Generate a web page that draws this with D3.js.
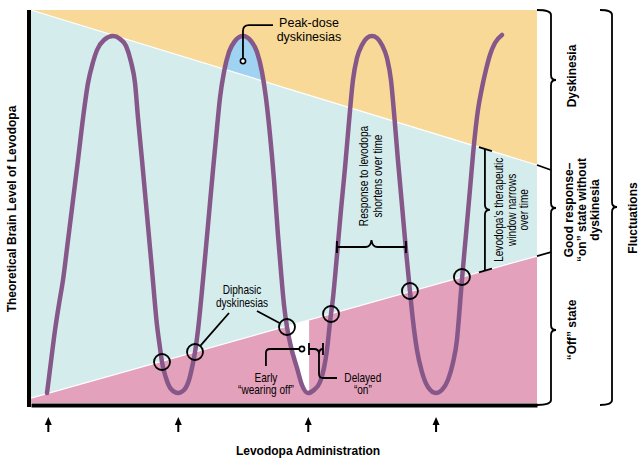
<!DOCTYPE html>
<html><head><meta charset="utf-8">
<script src="https://cdn.jsdelivr.net/npm/d3@7"></script>
<style>
html,body{margin:0;padding:0;background:#fff;}
svg{display:block;font-family:"Liberation Sans",Arial,Helvetica,sans-serif;}
</style></head><body>
<svg id="c" width="640" height="465"></svg>
<script>
// ---------- data (time in hours, level in % of scale) ----------
const doseTimes = [0, 3, 6, 8.95];
const levelCurve = [
[-0.03,2.54],[0.06,10.43],[0.155,18.58],[0.247,25.19],[0.339,31.30],[0.455,41.48],[0.570,51.65],[0.685,61.83],[0.801,72.52],[0.916,81.42],[1.032,86.77],[1.124,89.82],[1.285,92.37],[1.493,93.38],
[1.655,92.62],[1.794,90.84],[1.909,86.77],[2.001,81.42],[2.070,72.52],[2.162,61.83],[2.278,47.84],[2.393,33.84],[2.508,19.85],[2.578,13.99],[2.624,10.43],[2.716,6.36],[2.832,3.56],[2.993,2.54],
[3.132,3.31],[3.247,5.85],[3.339,10.18],[3.386,12.98],[3.455,18.58],[3.570,31.30],[3.686,45.29],[3.801,59.29],[3.893,69.97],[3.962,77.61],[4.055,84.22],[4.170,89.31],[4.308,92.11],[4.493,93.38],
[4.678,92.11],[4.817,89.31],[4.932,84.22],[5.024,77.61],[5.117,68.19],[5.209,56.74],[5.301,42.75],[5.371,33.33],[5.440,24.94],[5.509,19.34],[5.602,14.25],[5.740,8.91],[5.855,4.58],[5.994,2.54],
[6.132,3.31],[6.271,5.34],[6.363,8.91],[6.432,13.49],[6.502,20.61],[6.571,26.72],[6.663,37.66],[6.755,49.11],[6.848,59.80],[6.940,71.50],[7.032,82.19],[7.124,87.79],[7.240,91.09],[7.355,92.88],[7.470,93.38],
[7.586,92.88],[7.701,91.09],[7.817,87.79],[7.909,82.19],[7.978,74.05],[8.070,61.83],[8.163,50.38],[8.255,38.93],[8.347,28.50],[8.416,21.12],[8.509,13.49],[8.624,7.89],[8.763,4.07],[8.947,2.54],
[9.085,3.31],[9.224,5.85],[9.339,10.18],[9.432,16.03],[9.501,24.94],[9.547,31.30],[9.640,42.75],[9.732,54.20],[9.824,65.65],[9.917,74.55],[10.009,80.15],[10.101,84.73],[10.194,88.55],[10.309,91.60],[10.471,93.64]
];
const dyskThreshold = [[-0.4,100],[11.28,60.56]];
const offThreshold  = [[-0.4,1.27],[11.28,37.4]];
const crossings = [[2.624,10.43],[3.386,12.98],[5.509,19.34],[6.525,22.65],[8.347,28.5],[9.547,32.06]];
const peakDosePoint = [4.493, 87.0];
const earlyWearingOff = [5.854, 13.74];
const earlyWearingOffEnd = 6.02;
const delayedOnSpan = [6.017, 6.34, 13.74];
const responseSpan = [6.663, 8.255, 39.69];
const windowTime = 10.078;
const xLabel = "Levodopa Administration";
const yLabel = "Theoretical Brain Level of Levodopa";

// ---------- scales ----------
const svg = d3.select('#c');
const x = d3.scaleLinear().domain([-0.4, 11.28]).range([31, 537]);
const y = d3.scaleLinear().domain([0, 100]).range([403, 10]);
const lerp = (ln, t) => ln[0][1] + (ln[1][1]-ln[0][1])*(t-ln[0][0])/(ln[1][0]-ln[0][0]);
const [t0, t1] = x.domain();

const C = {yellow:'#F8D998', blue:'#D5ECEC', pink:'#E4A1BB', purple:'#86588A', sky:'#A0D3F2'};

const defs = svg.append('defs');
const poly = pts => 'M' + pts.map(p => p.join(',')).join('L') + 'Z';
const yellowPts = [[x(t0),y(100)],[x(t1),y(100)],[x(t1),y(dyskThreshold[1][1])],[x(t0),y(dyskThreshold[0][1])]];
const pinkPts = [[x(t0),y(offThreshold[0][1])],[x(t1),y(offThreshold[1][1])],[x(t1),y(0)],[x(t0),y(0)]];
defs.append('clipPath').attr('id','clipY').append('path').attr('d', poly(yellowPts));
defs.append('clipPath').attr('id','clipP').append('path').attr('d', poly(pinkPts));
defs.append('clipPath').attr('id','clipW').append('rect')
  .attr('x', x(t0)).attr('y', y(100)).attr('width', x(earlyWearingOffEnd)-x(t0)).attr('height', y(0)-y(100));

// background zones
svg.append('rect').attr('x', x(t0)).attr('y', y(100)).attr('width', x(t1)-x(t0)).attr('height', y(0)-y(100)).attr('fill', C.blue);
svg.append('path').attr('d', poly(yellowPts)).attr('fill', C.yellow);
svg.append('path').attr('d', poly(pinkPts)).attr('fill', C.pink);

const line = d3.line().x(d=>x(d[0])).y(d=>y(d[1])).curve(d3.curveMonotoneX);
const area = d3.area().x(d=>x(d[0])).y0(d=>y(d[1])).y1(y(100)).curve(d3.curveMonotoneX);

// peak-dose patch
svg.append('path').attr('d', line(levelCurve.filter(d=>d[0]>3.7 && d[0]<5.3)) + 'Z')
  .attr('fill', C.sky).attr('clip-path','url(#clipY)');
// early wearing-off white patch
svg.append('g').attr('clip-path','url(#clipP)').append('path')
  .attr('d', area(levelCurve.filter(d=>d[0]>5.2 && d[0]<6.2)))
  .attr('fill','#fff').attr('clip-path','url(#clipW)');

// threshold separators
[dyskThreshold, offThreshold].forEach(l => svg.append('path').attr('d', d3.line().x(d=>x(d[0])).y(d=>y(d[1]))(l))
  .attr('stroke','#fff').attr('stroke-width',1.3).attr('fill','none'));

// level curve
svg.append('path').attr('d', line(levelCurve)).attr('fill','none')
  .attr('stroke', C.purple).attr('stroke-width', 4.5).attr('stroke-linecap','round').attr('stroke-linejoin','round');

// axes (no ticks)
const ax = svg.append('g').attr('transform','translate(29,0)').call(d3.axisLeft(y).ticks(0).tickSizeOuter(0));
ax.select('.domain').attr('d', `M0,${y(100)}V${y(0)+4}`).attr('stroke','#000').attr('stroke-width',4);
const bx = svg.append('g').attr('transform',`translate(0,${y(0)+2})`).call(d3.axisBottom(x).ticks(0).tickSizeOuter(0));
bx.select('.domain').attr('stroke','#000').attr('stroke-width',4);

// crossing circles
svg.selectAll('circle.cr').data(crossings).join('circle').attr('class','cr')
  .attr('cx', d=>x(d[0])).attr('cy', d=>y(d[1])).attr('r', 8)
  .attr('fill','none').attr('stroke','#000').attr('stroke-width',1.8);

// dose arrows
const ag = svg.selectAll('g.dose').data(doseTimes).join('g').attr('class','dose')
  .attr('transform', d=>`translate(${x(d)},0)`);
ag.append('path').attr('d','M0,432V423').attr('stroke','#000').attr('stroke-width',2);
ag.append('path').attr('d','M-3.5,425L0,417L3.5,425Z').attr('fill','#000');

// text helper
function label(px, py, lines, o={}) {
  let tr = `translate(${px},${py})`;
  if (o.rot) tr += ` rotate(${o.rot})`;
  if (o.sx) tr += ` scale(${o.sx},1)`;
  const t = svg.append('g').attr('transform', tr).append('text')
    .attr('text-anchor', o.anchor||'middle').attr('font-size', o.size||12)
    .attr('font-weight', o.weight||'normal').attr('fill','#000');
  lines.forEach((s,i)=> t.append('tspan').attr('x',0).attr('y', i*(o.lh||13)).text(s));
}
const K = 0.84; // condensed face
const stroke = sel => sel.attr('fill','none').attr('stroke','#000').attr('stroke-width',1.8);

// Peak-dose dyskinesias
const pd = [x(peakDosePoint[0]), y(peakDosePoint[1])];
stroke(svg.append('path').attr('d', `M${pd[0]},${pd[1]}V${pd[1]-30}Q${pd[0]},${pd[1]-36} ${pd[0]+6},${pd[1]-36}H${pd[0]+30}`));
svg.append('circle').attr('cx',pd[0]).attr('cy',pd[1]).attr('r',2.6).attr('fill','#fff').attr('stroke','#000').attr('stroke-width',1.6);
label(pd[0]+66, pd[1]-34, ['Peak-dose','dyskinesias'], {size:12.5, lh:13.5});

// Diphasic dyskinesias
const dpx = x(4.47);
label(dpx, 294, ['Diphasic','dyskinesias'], {sx:K, lh:13});
[[dpx-13, 313, crossings[1]], [dpx+15, 311, crossings[2]]].forEach(([sx0, sy0, c]) => {
  const cx = x(c[0]), cy = y(c[1]); const dx = cx-sx0, dy = cy-sy0, L = Math.hypot(dx,dy);
  stroke(svg.append('path').attr('d', `M${sx0},${sy0}L${cx-8*dx/L},${cy-8*dy/L}`));
});

// Early wearing off
const ew = [x(earlyWearingOff[0]), y(earlyWearingOff[1])];
stroke(svg.append('path').attr('d', `M${ew[0]-36},${ew[1]+17}V${ew[1]+4}Q${ew[0]-36},${ew[1]} ${ew[0]-32},${ew[1]}H${ew[0]-2.6}`));
svg.append('circle').attr('cx',ew[0]).attr('cy',ew[1]).attr('r',2.6).attr('fill','#fff').attr('stroke','#000').attr('stroke-width',1.6);
label(ew[0]-36, 382, ['Early','\u201Cwearing off\u201D'], {sx:K, lh:12.5});

// Delayed on
const dl = x(delayedOnSpan[0]), dr = x(delayedOnSpan[1]), dyy = y(delayedOnSpan[2]), dm = dr-4;
stroke(svg.append('path').attr('d',
  `M${dl},${dyy-6}V${dyy+6}M${dr},${dyy-6}V${dyy+6}M${dl},${dyy}H${dm-5}Q${dm},${dyy} ${dm},${dyy+5}V${dyy+25}Q${dm},${dyy+29} ${dm+4},${dyy+29}H${dm+18}M${dr},${dyy}Q${dm},${dyy} ${dm},${dyy+5}`));
label(x(7.26), 382, ['Delayed','\u201Con\u201D'], {sx:K, lh:12.5});

// Response shortens brace
const r1 = x(responseSpan[0]), r2 = x(responseSpan[1]), ry = y(responseSpan[2]), rm = (r1+r2)/2;
stroke(svg.append('path').attr('d',
  `M${r1},${ry-6}V${ry+6}M${r2},${ry-6}V${ry+6}M${r1},${ry}H${rm-6}Q${rm-1},${ry} ${rm},${ry-7}Q${rm+1},${ry} ${rm+6},${ry}H${r2}`));
label(rm-3, 176, ['Response to levodopa','shortens over time'], {rot:-90, sx:K, lh:13.5});

// Therapeutic window brace
const wx = x(windowTime);
const wTop = y(lerp(dyskThreshold, windowTime)), wBot = y(lerp(offThreshold, windowTime)), wMid = (wTop+wBot)/2;
const ta = x.invert(wx-6), tb = x.invert(wx+7);
stroke(svg.append('path').attr('d',
  `M${x(ta)},${y(lerp(dyskThreshold,ta))}L${x(tb)},${y(lerp(dyskThreshold,tb))}` +
  `M${x(ta)},${y(lerp(offThreshold,ta))}L${x(tb)},${y(lerp(offThreshold,tb))}` +
  `M${wx},${wTop}V${wMid-5}Q${wx},${wMid} ${wx+5},${wMid}Q${wx},${wMid} ${wx},${wMid+5}V${wBot}`));
label(wx+18.5, wMid, ['Levodopa\u2019s therapeutic','window narrows','over time'], {rot:-90, sx:K, lh:12.5});

// Right-side state braces
function vbrace(bx0, y1, y2, yt, ends) {
  const r = 5, d = 5;
  let p = ends[0] ? `M${bx0-ends[0]},${y1}Q${bx0},${y1} ${bx0},${y1+r}` : `M${bx0},${y1}`;
  p += `V${yt-r}Q${bx0},${yt} ${bx0+d},${yt}Q${bx0},${yt} ${bx0},${yt+r}`;
  p += ends[1] ? `V${y2-r}Q${bx0},${y2} ${bx0-ends[1]},${y2}` : `V${y2}`;
  stroke(svg.append('path').attr('d', p));
}
const xr = x(t1), yD = y(dyskThreshold[1][1]), yO = y(offThreshold[1][1]);
stroke(svg.append('path').attr('d', `M${xr},${yD}L${xr+14},${yD+5}M${xr},${yO}L${xr+14},${yO-4}`));
vbrace(xr+14, y(100), yD+5, 80, [14, 0]);
vbrace(xr+14, yD+5, yO-4, 208, [0, 0]);
vbrace(xr+14, yO-4, y(0)+2, 330, [0, 14]);
vbrace(xr+75, y(100), y(0)+2, 207, [12, 12]);

label(576, 76, ['Dyskinesia'], {rot:-90, weight:'bold'});
label(573, 210, ['Good response\u2013','\u201Con\u201D state without','dyskinesia'], {rot:-90, weight:'bold', lh:13});
label(576, 330, ['\u201COff\u201D state'], {rot:-90, weight:'bold'});
label(637, 218, ['Fluctuations'], {rot:-90, weight:'bold'});

// axis titles
label(308, 455, [xLabel], {weight:'bold'});
label(16, 209, [yLabel], {rot:-90, weight:'bold'});
</script>
</body></html>
